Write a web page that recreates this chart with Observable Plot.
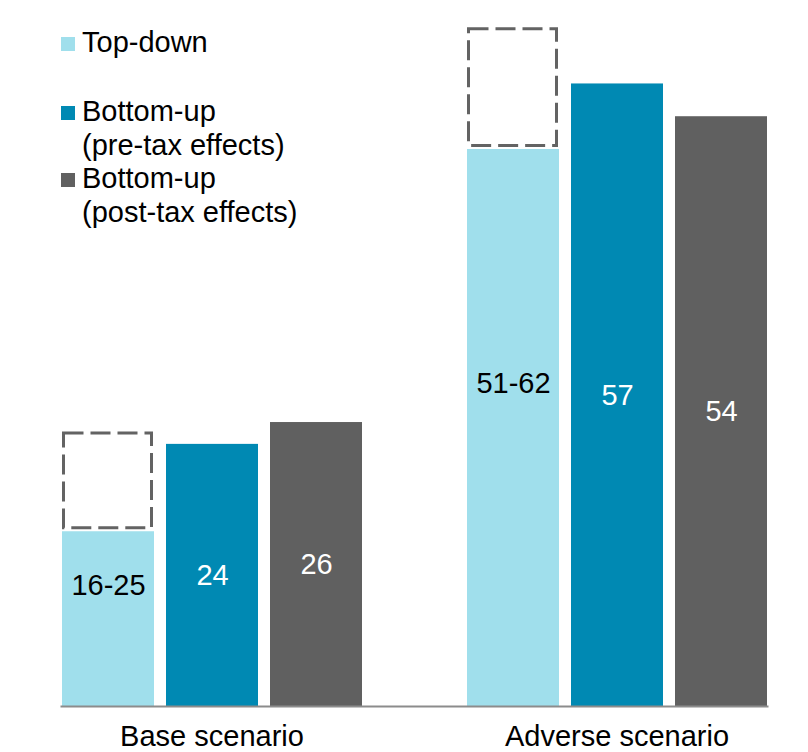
<!DOCTYPE html>
<html>
<head>
<meta charset="utf-8">
<script src="https://cdn.jsdelivr.net/npm/d3@7"></script>
<script src="https://cdn.jsdelivr.net/npm/@observablehq/plot@0.6"></script>
<style>
  html, body { margin: 0; padding: 0; background: #fff; }
  #wrap { position: relative; width: 808px; height: 752px; font-family: "Liberation Sans", Arial, sans-serif; }
  .item { position: absolute; left: 61px; display: flex; align-items: flex-start; font-size: 29px; line-height: 34px; color: #000; }
  .sw { width: 14px; height: 14px; margin-top: 12px; margin-right: 7px; flex: none; }
</style>
</head>
<body>
<div id="wrap"></div>
<script>
// ---- data ----
const scenarios = ["Base scenario", "Adverse scenario"];
const series = ["Top-down", "Bottom-up (pre-tax effects)", "Bottom-up (post-tax effects)"];
const colors = ["#a0dfec", "#0089b3", "#606060"];
const topDownLow = [16, 51];
const topDownHigh = [25, 62];
const preTax = [24, 57];
const postTax = [26, 54];
const labelColors = ["#000000", "#ffffff", "#ffffff"];

// ---- tables built from the arrays ----
const bars = [];
const ranges = [];
const labels = [];
scenarios.forEach((s, i) => {
  bars.push({scenario: s, series: series[0], value: topDownLow[i]});
  bars.push({scenario: s, series: series[1], value: preTax[i]});
  bars.push({scenario: s, series: series[2], value: postTax[i]});
  ranges.push({scenario: s, series: series[0], low: topDownLow[i], high: topDownHigh[i]});
  labels.push({scenario: s, series: series[0], y: topDownHigh[i] / 2, text: `${topDownLow[i]}-${topDownHigh[i]}`, k: 0});
  labels.push({scenario: s, series: series[1], y: preTax[i] / 2, text: String(preTax[i]), k: 1});
  labels.push({scenario: s, series: series[2], y: postTax[i] / 2, text: String(postTax[i]), k: 2});
});

const font = "Liberation Sans, Arial, sans-serif";

const chart = Plot.plot({
  width: 808,
  height: 752,
  marginTop: 7,
  marginBottom: 46,
  marginLeft: 9,
  marginRight: 0,
  style: {fontFamily: font, fontSize: "29px", background: "#fff", overflow: "visible"},
  fx: {domain: scenarios, paddingInner: 0.2568, paddingOuter: 0.1148, align: 0.559, label: null, axis: null},
  x: {domain: series, paddingInner: 0.12, paddingOuter: 0, axis: null},
  y: {domain: [0, 64], axis: null},
  color: {domain: series, range: colors},
  marks: [
    Plot.barY(bars, {fx: "scenario", x: "series", y: "value", fill: "series"}),
    Plot.barY(ranges, {fx: "scenario", x: "series", y1: "low", y2: "high", fill: "none",
      stroke: "#636363", strokeWidth: 3, strokeDasharray: "20,7", insetLeft: 1.5, insetRight: 2.5, insetBottom: 3.5}),
    Plot.text(labels.filter(d => d.k === 0), {fx: "scenario", x: "series", y: "y", text: "text", fill: labelColors[0], fontSize: 29, dy: 16}),
    Plot.text(labels.filter(d => d.k > 0), {fx: "scenario", x: "series", y: "y", text: "text", fill: labelColors[1], fontSize: 29}),
    Plot.frame({anchor: "bottom", facet: "super", stroke: "#8c8c8c", strokeWidth: 2}),
    Plot.axisFx({anchor: "bottom", tickSize: 0, tickPadding: 19, fontSize: 29, label: null, fill: "#000"})
  ]
});

const wrap = document.getElementById("wrap");
wrap.appendChild(chart);

// legend (overlaid at the top-left, as in the reference)
const legendItems = [
  {lines: ["Top-down"], color: colors[0], top: 25},
  {lines: ["Bottom-up", "(pre-tax effects)"], color: colors[1], top: 94},
  {lines: ["Bottom-up", "(post-tax effects)"], color: colors[2], top: 161}
];
legendItems.forEach(it => {
  const div = document.createElement("div");
  div.className = "item";
  div.style.top = it.top + "px";
  const sw = document.createElement("span");
  sw.className = "sw";
  sw.style.background = it.color;
  const tx = document.createElement("span");
  tx.innerHTML = it.lines.join("<br>");
  div.appendChild(sw);
  div.appendChild(tx);
  wrap.appendChild(div);
});
const svgEl = wrap.querySelector("svg");
svgEl.style.position = "absolute";
svgEl.style.left = "0";
svgEl.style.top = "0";
</script>
</body>
</html>
